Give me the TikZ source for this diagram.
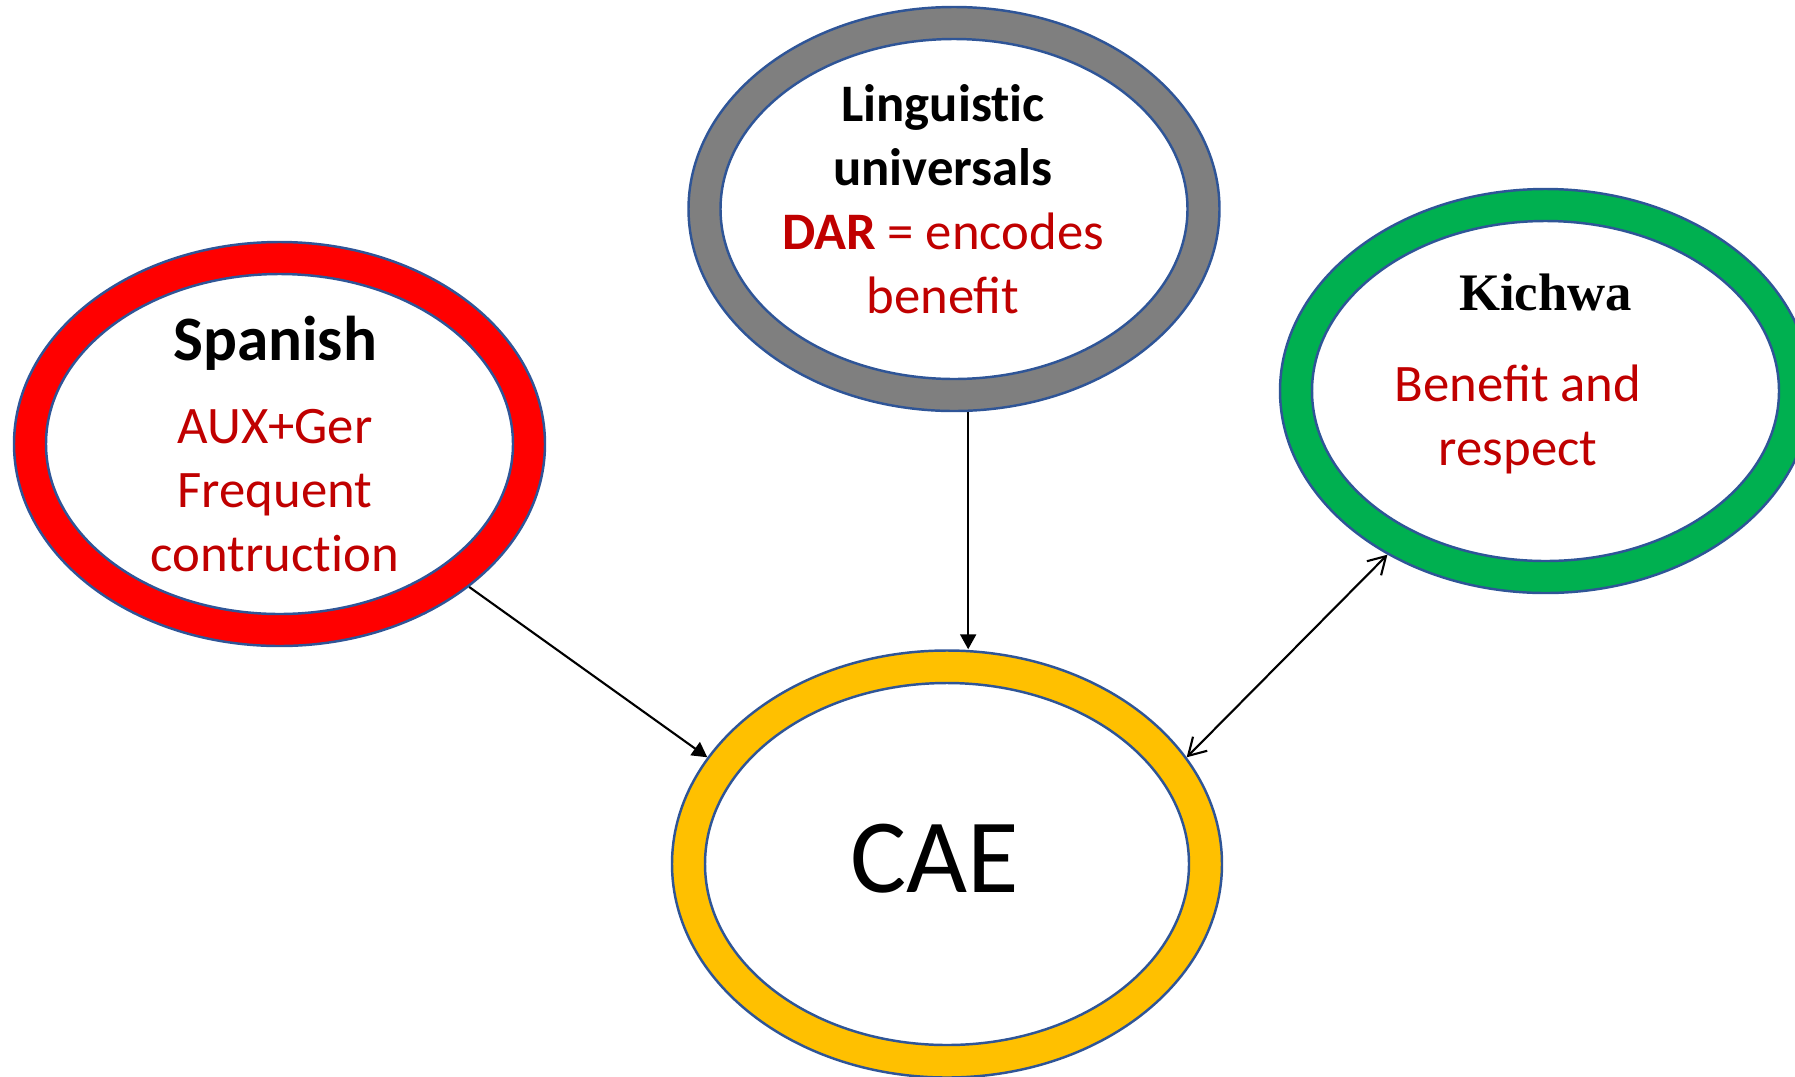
\documentclass[tikz,border=0pt]{standalone}
\usepackage{fontspec}
\setmainfont{Carlito}
\newfontfamily\timesfont{Liberation Serif}
\usepackage{xcolor}
\definecolor{ringred}{HTML}{FF0000}
\definecolor{ringgray}{HTML}{7F7F7F}
\definecolor{ringgreen}{HTML}{00B050}
\definecolor{ringyellow}{HTML}{FFC000}
\definecolor{edge}{HTML}{2F5597}
\definecolor{txtred}{HTML}{C00000}
\usetikzlibrary{shapes.geometric, arrows.meta}
\tikzstyle{ring} = [ellipse,draw=edge,line width=0.7pt,inner sep=0pt,minimum width=5.31cm,minimum height=4.04cm]
\tikzstyle{hole} = [ellipse,draw=edge,line width=0.7pt,inner sep=0pt,fill=white,minimum width=4.67cm,minimum height=3.40cm]
\tikzstyle{title} = [align=center,inner sep=0pt,font=\bfseries\fontsize{15}{18.2}\selectfont]
\tikzstyle{body} = [align=center,inner sep=0pt,text=txtred,font=\fontsize{15}{18.2}\selectfont]
\tikzstyle{flow} = [line width=0.6pt,-{Triangle[length=0.15cm,width=0.16cm]}]
\tikzstyle{both} = [line width=0.6pt,{Straight Barb[length=0.17cm,width=0.2cm]}-{Straight Barb[length=0.17cm,width=0.2cm]}]

\begin{document}
\begin{tikzpicture}
  \useasboundingbox (0,0) rectangle (17.95,-10.76);
  % rings
  \node (spanish) [ring,fill=ringred] at (2.795,-4.44) {};
  \node (spanishIn) [hole] at (spanish.center) {};
  \node (ling) [ring,fill=ringgray] at (9.54,-2.09) {};
  \node (lingIn) [hole] at (ling.center) {};
  \node (kichwa) [ring,fill=ringgreen] at (15.455,-3.91) {};
  \node (kichwaIn) [hole] at (kichwa.center) {};
  \node (cae) [ring,fill=ringyellow,minimum width=5.5cm,minimum height=4.27cm] at (9.47,-8.64) {};
  \node (caeIn) [hole,minimum width=4.84cm,minimum height=3.62cm] at (cae.center) {};
  % texts
  \node (spanishT) [title,font=\bfseries\fontsize{18}{21}\selectfont] at (2.75,-3.43) {Spanish};
  \node (spanishB) [body] at (2.75,-4.91) {AUX+Ger\\Frequent\\contruct\kern0pt ion};
  \node (lingT) [title] at (9.43,-1.35) {Linguist\kern0pt ic\\universals};
  \node (lingB) [body] at (9.43,-2.63) {\textbf{DAR} = encodes\\benefit};
  \node (kichwaT) [title,font=\timesfont\bfseries\fontsize{15}{18.2}\selectfont] at (15.455,-2.92) {Kichwa};
  \node (kichwaB) [body] at (15.18,-4.19) {Benefit and\\respect};
  \node (caeT) [font=\fontsize{30}{36}\selectfont,inner sep=0pt] at (9.35,-8.59) {CAE};
  % links
  \draw [flow] (spanish.-37.1) -- (cae.156.3);
  \draw [flow] (ling.-86.7) -- (ling.-86.7 |- cae.north);
  \draw [both] (cae.24.4) -- (kichwa.226.1);
\end{tikzpicture}
\end{document}
